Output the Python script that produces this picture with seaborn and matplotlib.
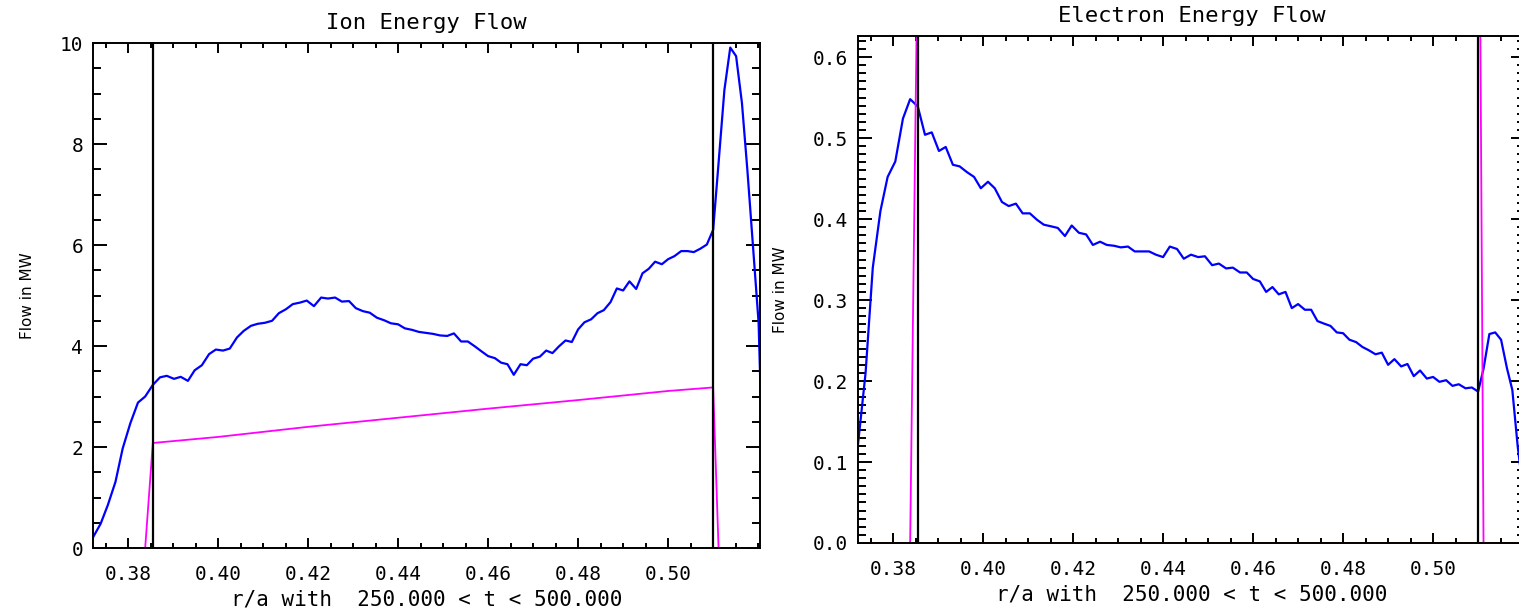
import matplotlib
matplotlib.use("Agg")
import matplotlib.pyplot as plt
from matplotlib.ticker import FixedLocator, MultipleLocator, AutoMinorLocator, FormatStrFormatter
import seaborn as sns

sns.set_style("ticks")
plt.rcParams["font.family"] = ["DejaVu Sans Mono", "DejaVu Sans"]

# ── Data ─────────────────────────────────────────────────────────────────────
r_over_a = [
    0.3722, 0.3739, 0.3755, 0.3772, 0.3788, 0.3805, 0.3822, 0.3838, 0.3855,
    0.3871, 0.3886, 0.3902, 0.3917, 0.3933, 0.3948, 0.3964, 0.3980, 0.3995, 0.4011,
    0.4026, 0.4042, 0.4057, 0.4073, 0.4088, 0.4104, 0.4120, 0.4135, 0.4151, 0.4166,
    0.4182, 0.4197, 0.4213, 0.4229, 0.4244, 0.4260, 0.4275, 0.4291, 0.4306, 0.4322,
    0.4337, 0.4353, 0.4369, 0.4384, 0.4400, 0.4415, 0.4431, 0.4446, 0.4462, 0.4478,
    0.4493, 0.4509, 0.4524, 0.4540, 0.4555, 0.4571, 0.4586,
    0.4600, 0.4615, 0.4629, 0.4643, 0.4657, 0.4672, 0.4686, 0.4700, 0.4715, 0.4729,
    0.4743, 0.4757, 0.4772, 0.4786, 0.4800, 0.4814, 0.4829, 0.4843, 0.4857, 0.4872,
    0.4886, 0.4900, 0.4914, 0.4929, 0.4943, 0.4957, 0.4971, 0.4986, 0.5000, 0.5014,
    0.5029, 0.5043, 0.5057, 0.5072, 0.5086, 0.5100,
    0.5112, 0.5125, 0.5138, 0.5151, 0.5164, 0.5176, 0.5188, 0.5201, 0.5213,
]

ion_flow = [
    0.21, 0.48, 0.85, 1.31, 1.97, 2.47, 2.88, 3.00, 3.23,
    3.38, 3.41, 3.35, 3.39, 3.31, 3.52, 3.62, 3.84, 3.93, 3.91,
    3.95, 4.17, 4.30, 4.40, 4.44, 4.46, 4.50, 4.65, 4.73, 4.83,
    4.86, 4.90, 4.79, 4.96, 4.94, 4.96, 4.88, 4.89, 4.75, 4.69,
    4.66, 4.56, 4.51, 4.45, 4.43, 4.35, 4.32, 4.28, 4.26, 4.24,
    4.21, 4.20, 4.25, 4.09, 4.09, 3.99, 3.89,
    3.80, 3.76, 3.67, 3.64, 3.43, 3.64, 3.62, 3.75, 3.79, 3.91,
    3.86, 3.99, 4.11, 4.08, 4.33, 4.47, 4.53, 4.65, 4.71, 4.87,
    5.14, 5.10, 5.28, 5.13, 5.44, 5.53, 5.67, 5.62, 5.72, 5.78,
    5.88, 5.88, 5.86, 5.93, 6.01, 6.30,
    7.62, 9.07, 9.91, 9.74, 8.81, 7.49, 6.04, 4.46, 0.70,
]

electron_flow = [
    0.121, 0.210, 0.340, 0.410, 0.452, 0.471, 0.524, 0.548, 0.539,
    0.504, 0.507, 0.484, 0.489, 0.467, 0.465, 0.458, 0.452, 0.438, 0.446,
    0.438, 0.421, 0.416, 0.419, 0.407, 0.407, 0.399, 0.393, 0.391, 0.389,
    0.379, 0.392, 0.383, 0.381, 0.368, 0.372, 0.368, 0.367, 0.365, 0.366,
    0.360, 0.360, 0.360, 0.356, 0.353, 0.366, 0.363, 0.351, 0.356, 0.353,
    0.354, 0.343, 0.345, 0.339, 0.340, 0.334, 0.334,
    0.326, 0.323, 0.310, 0.316, 0.307, 0.310, 0.290, 0.295, 0.288, 0.288,
    0.274, 0.271, 0.268, 0.260, 0.259, 0.251, 0.248, 0.242, 0.238, 0.233,
    0.235, 0.220, 0.227, 0.218, 0.221, 0.206, 0.213, 0.203, 0.205, 0.199,
    0.201, 0.194, 0.196, 0.191, 0.192, 0.187,
    0.215, 0.258, 0.260, 0.251, 0.216, 0.189, 0.119, 0.060, 0.020,
]

# second (magenta) profile, coarser sampling
mag_r        = [0.3722, 0.3838, 0.3855, 0.4000, 0.4200, 0.4400, 0.4600,
                0.4800, 0.5000, 0.5100, 0.5112, 0.5213]
mag_ion      = [0.0, 0.0, 2.08, 2.20, 2.40, 2.58, 2.76, 2.93, 3.11, 3.18, 0.0, 0.0]
mag_electron = [0.0, 0.0, 0.75, 0.78, 0.83, 0.88, 0.93, 0.98, 1.04, 1.08, 0.0, 0.0]

bounds = [0.3855, 0.5100]
x_range = (0.3722, 0.5204)
x_ticks = [0.38, 0.40, 0.42, 0.44, 0.46, 0.48, 0.50]
x_label = "r/a with  250.000 < t < 500.000"

BLUE, MAGENTA, ORANGE = "#0000ff", "#ff00ff", "#ff8000"

fig = plt.figure(figsize=(15.19, 6.13), dpi=100)
fig.patch.set_facecolor("white")

panels = [
    dict(pos=[0.0612, 0.1060, 0.4391, 0.8238], y=ion_flow, mag=mag_ion,
         title="Ion Energy Flow", ylim=(0, 10), major=2, minor=4, fmt="%d"),
    dict(pos=[0.5648, 0.1142, 0.4391, 0.8271], y=electron_flow, mag=mag_electron,
         title="Electron Energy Flow", ylim=(0, 0.626), major=0.1, minor=10, fmt="%.1f"),
]

for p in panels:
    ax = fig.add_axes(p["pos"])
    ax.set_facecolor("white")

    sns.lineplot(x=r_over_a, y=p["y"], ax=ax, color=BLUE, linewidth=1.6,
                 estimator=None, sort=False)
    sns.lineplot(x=mag_r, y=p["mag"], ax=ax, color=MAGENTA, linewidth=1.3,
                 estimator=None, sort=False)
    ax.axhline(0, color=ORANGE, linewidth=2.0)
    for b in bounds:
        ax.axvline(b, color="black", linewidth=1.6)

    ax.set_xlim(*x_range)
    ax.set_ylim(*p["ylim"])

    ax.xaxis.set_major_locator(FixedLocator(x_ticks))
    ax.xaxis.set_minor_locator(MultipleLocator(0.005))
    ax.xaxis.set_major_formatter(FormatStrFormatter("%.2f"))
    ax.yaxis.set_major_locator(MultipleLocator(p["major"]))
    ax.yaxis.set_minor_locator(AutoMinorLocator(p["minor"]))
    ax.yaxis.set_major_formatter(FormatStrFormatter(p["fmt"]))

    ax.tick_params(which="both", direction="in", top=True, right=True,
                   width=1.4, colors="black", labelsize=14)
    ax.tick_params(axis="x", which="major", length=7.2, pad=12)
    ax.tick_params(axis="x", which="minor", length=3.6)
    ax.tick_params(axis="y", which="major", length=10, pad=7)
    ax.tick_params(axis="y", which="minor", length=5.5)
    for s in ax.spines.values():
        s.set_visible(True)
        s.set_linewidth(1.4)
        s.set_color("black")

    ax.set_title(p["title"], fontsize=16, color="black", pad=10)
    ax.set_xlabel(x_label, fontsize=15, color="black", labelpad=4)
    ax.set_ylabel("Flow in MW", fontsize=11, color="black",
                  family=["DejaVu Sans"], labelpad=18)

fig.savefig("out.png", dpi=100, facecolor="white")
plt.close(fig)
